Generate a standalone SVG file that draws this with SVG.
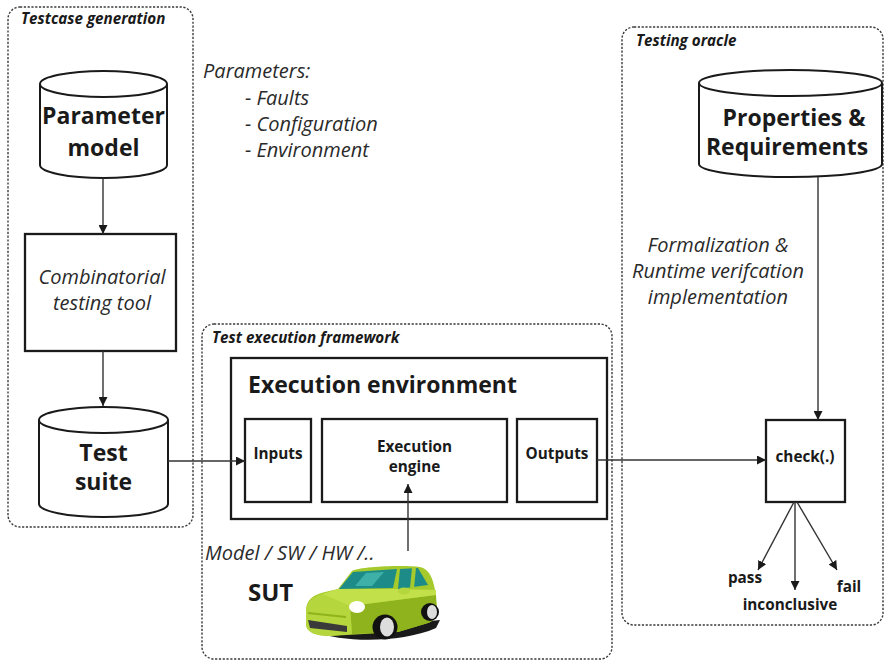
<svg xmlns="http://www.w3.org/2000/svg" width="885" height="662" viewBox="0 0 885 662">
  <defs>
    <marker id="arrow" viewBox="0 0 10 10" refX="10" refY="5" markerWidth="9" markerHeight="9" markerUnits="userSpaceOnUse" orient="auto">
      <path d="M0,0 L10,5 L0,10 Z" fill="#1a1a1a"/>
    </marker>
    <style>
      .frame { fill: none; stroke: #3a3a3a; stroke-width: 1.4; stroke-dasharray: 2.2 1.6; }
      .box { fill: #fff; stroke: #1a1a1a; stroke-width: 2.3; }
      .cyl { fill: #fff; stroke: #1a1a1a; stroke-width: 2; }
      .edge { fill: none; stroke: #333; stroke-width: 1.4; marker-end: url(#arrow); }
      text { font-family: "Open Sans", "Noto Sans", sans-serif; fill: #1a1a1a; }
      .title { font-size: 15.2px; font-weight: 700; font-style: italic; }
      .big { font-size: 23px; font-weight: 700; text-anchor: middle; }
      .mid { font-size: 15.3px; font-weight: 700; text-anchor: middle; }
      .note { font-size: 20px; font-style: italic; fill: #2a2a2a; }
    </style>
  </defs>

  <rect width="885" height="662" fill="#fff"/>

  <!-- dashed grouping frames -->
  <g id="testcase-generation">
    <rect class="frame" x="8" y="7" width="185" height="520" rx="12"/>
    <text class="title" x="21" y="24">Testcase generation</text>
  </g>
  <g id="test-execution-framework">
    <rect class="frame" x="202" y="324" width="410" height="335" rx="12"/>
    <text class="title" x="212" y="343">Test execution framework</text>
  </g>
  <g id="testing-oracle">
    <rect class="frame" x="622" y="27" width="261" height="598" rx="12"/>
    <text class="title" x="636" y="46">Testing oracle</text>
  </g>

  <!-- parameter notes -->
  <g id="parameters">
    <text class="note" x="203" y="78">Parameters:</text>
    <text class="note" x="245" y="105">- Faults</text>
    <text class="note" x="245" y="131">- Configuration</text>
    <text class="note" x="245" y="157">- Environment</text>
  </g>

  <g id="parameter-model">
    <path class="cyl" d="M40,84 L40,165 A63.5,13 0 0 0 167,165 L167,84"/>
    <ellipse class="cyl" cx="103.5" cy="84" rx="63.5" ry="13"/>
    <text class="big" x="103.5" y="124">Parameter</text>
    <text class="big" x="103.5" y="156">model</text>
  </g>

  <g id="combinatorial-tool">
    <rect class="box" x="25" y="234" width="151" height="117"/>
    <text class="note" x="102" y="284" text-anchor="middle">Combinatorial</text>
    <text class="note" x="102" y="310" text-anchor="middle">testing tool</text>
  </g>

  <g id="test-suite">
    <path class="cyl" d="M39,420 L39,504 A64.5,13 0 0 0 168,504 L168,420"/>
    <ellipse class="cyl" cx="103.5" cy="420" rx="64.5" ry="13"/>
    <text class="big" x="103.5" y="461">Test</text>
    <text class="big" x="103.5" y="490">suite</text>
  </g>

  <g id="execution-environment">
    <rect class="box" x="231" y="358" width="376" height="161" stroke-width="2.6"/>
    <text x="248" y="393" font-size="23" font-weight="700">Execution environment</text>
  </g>
  <g id="inputs">
    <rect class="box" x="245" y="419" width="66" height="83"/>
    <text class="mid" x="278" y="459">Inputs</text>
  </g>
  <g id="execution-engine">
    <rect class="box" x="322" y="419" width="185" height="83"/>
    <text class="mid" x="414.5" y="452">Execution</text>
    <text class="mid" x="414.5" y="472">engine</text>
  </g>
  <g id="outputs">
    <rect class="box" x="517" y="419" width="80" height="83"/>
    <text class="mid" x="557" y="459">Outputs</text>
  </g>

  <g id="sut">
    <text class="note" x="205" y="560">Model / SW / HW /..</text>
    <text x="248" y="601" font-size="24" font-weight="700">SUT</text>
    <!-- small green car -->
    <g id="car">
      <path d="M316,632 C340,642 400,644 436,628 L440,620 L420,622 L320,628 Z" fill="#1a1a1a"/>
      <path d="M306,612 C306,600 312,595 325,592 L338,589 L352,571 C362,566 405,565 420,567 C429,569 433,578 435,590 L437,611 C437,618 433,621 428,623 L398,632 L330,636 C315,636 307,632 306,625 Z" fill="#a6ca2c"/>
      <path d="M350,606 L436,595 L437,611 C437,618 433,621 428,623 L398,632 L352,634 Z" fill="#8fb31c"/>
      <path d="M306,612 C306,602 312,597 322,594 L350,606 L352,634 L330,636 C315,636 307,632 306,625 Z" fill="#b5d63c"/>
      <path d="M322,594 L338,589 L396,589 L436,590 L436,595 L350,606 Z" fill="#c2e04a"/>
      <path d="M339,589 L353,572 L397,569 L393,588 Z" fill="#1d8c88"/>
      <path d="M355,586 L366,573 L384,572 L372,586 Z" fill="#3fb0a8"/>
      <path d="M400,569 L418,568 L428,585 L398,589 Z" fill="#1d8c88"/>
      <path d="M412,568 L416,568 L414,588 L410,588 Z" fill="#a6ca2c"/>
      <ellipse cx="404" cy="591" rx="6" ry="3.5" fill="#b5d63c"/>
      <ellipse cx="357" cy="607" rx="8" ry="6" fill="#fff"/>
      <path d="M308,620 L347,626 L347,632 L310,628 Z" fill="#3a3a3a"/>
      <path d="M308,612 L346,616 L346,618 L308,614 Z" fill="#8fb31c"/>
      <circle cx="385" cy="627" r="12.5" fill="#111"/>
      <ellipse cx="387" cy="627" rx="7" ry="9.5" fill="#ddd"/>
      <circle cx="430" cy="612" r="9" fill="#111"/>
      <ellipse cx="432" cy="612" rx="5" ry="7" fill="#ddd"/>
    </g>
  </g>

  <g id="properties-requirements">
    <path class="cyl" d="M699,83 L699,164 A91.5,13 0 0 0 882,164 L882,83"/>
    <ellipse class="cyl" cx="790.5" cy="83" rx="91.5" ry="13"/>
    <text class="big" x="794" y="126">Properties &amp;</text>
    <text class="big" x="787" y="155">Requirements</text>
  </g>

  <g id="formalization">
    <text class="note" x="718" y="252" text-anchor="middle">Formalization &amp;</text>
    <text class="note" x="718" y="278" text-anchor="middle">Runtime verifcation</text>
    <text class="note" x="718" y="304" text-anchor="middle">implementation</text>
  </g>

  <g id="check">
    <rect class="box" x="766" y="420" width="79" height="82"/>
    <text class="mid" x="805" y="462">check(.)</text>
  </g>

  <g id="verdicts">
    <text class="mid" x="745" y="583">pass</text>
    <text class="mid" x="849" y="592">fail</text>
    <text class="mid" x="790" y="610">inconclusive</text>
  </g>

  <g id="connectors">
    <line class="edge" x1="103" y1="178" x2="103" y2="234"/>
    <line class="edge" x1="103" y1="351" x2="103" y2="406"/>
    <line class="edge" x1="168" y1="461" x2="245" y2="461"/>
    <line class="edge" x1="408" y1="551" x2="408" y2="484"/>
    <line class="edge" x1="597" y1="460" x2="766" y2="460"/>
    <line class="edge" x1="818" y1="177" x2="818" y2="420"/>
    <line class="edge" x1="794" y1="502" x2="758" y2="570"/>
    <line class="edge" x1="795" y1="502" x2="795" y2="590"/>
    <line class="edge" x1="797" y1="502" x2="837" y2="570"/>
  </g>
</svg>
